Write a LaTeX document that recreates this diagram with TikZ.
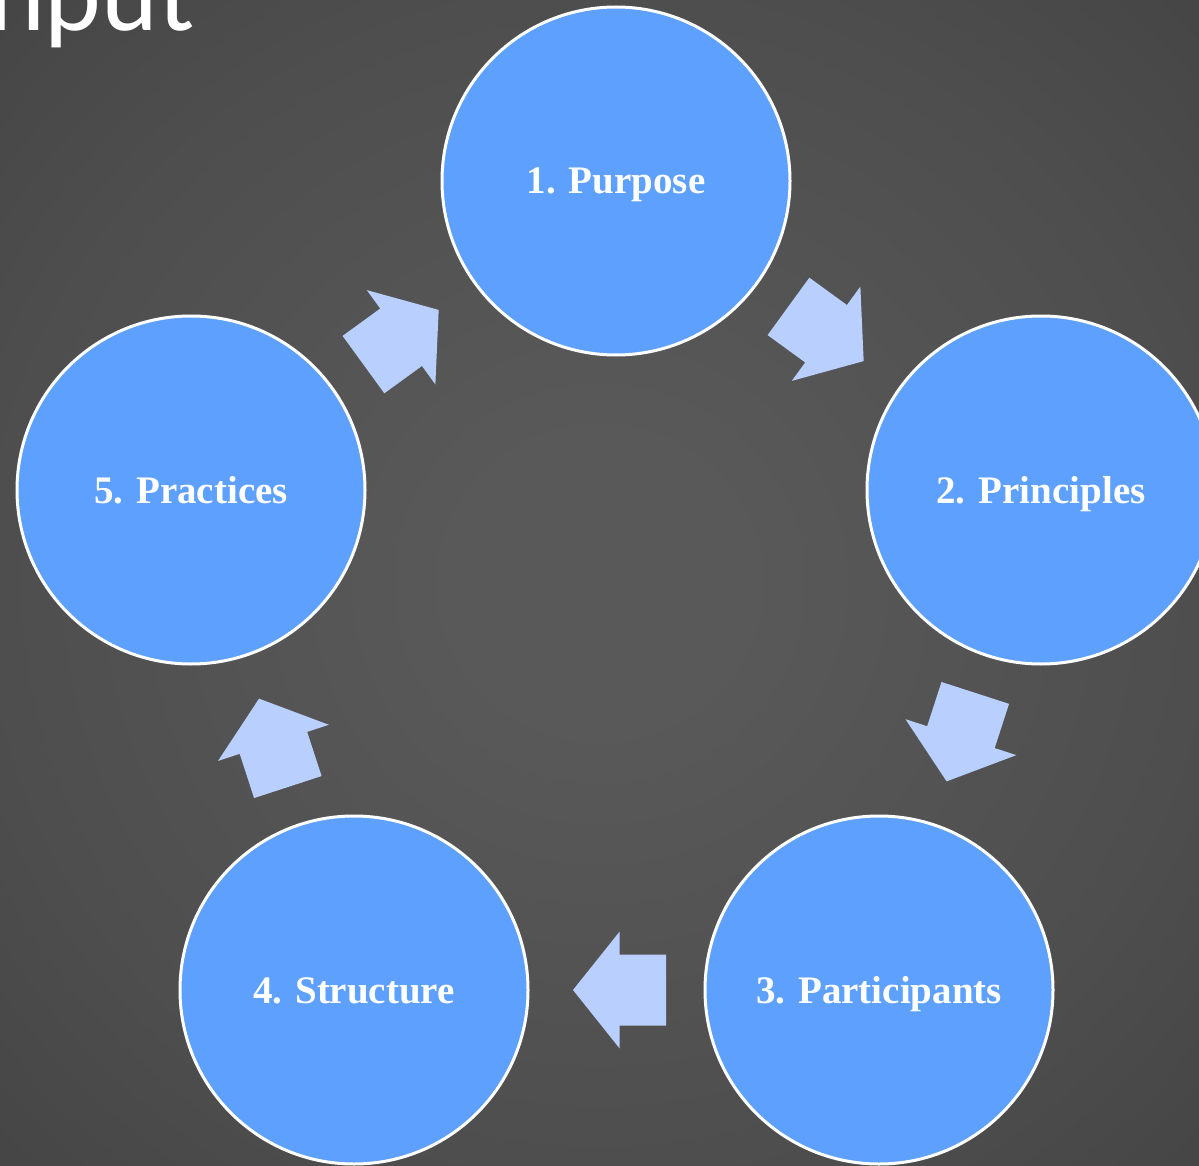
\documentclass[tikz,border=0pt]{standalone}
\usepackage{fontspec}
\setmainfont{Liberation Serif}
\newfontfamily\titlefont{Carlito}
\usetikzlibrary{calc}
\definecolor{circblue}{RGB}{94,160,254}
\definecolor{arrowblue}{RGB}{185,207,253}
\definecolor{bgin}{RGB}{89,89,89}
\definecolor{bgmid}{RGB}{78,78,78}
\definecolor{bgout}{RGB}{69,69,69}
\pgfdeclareradialshading{bgshade}{\pgfpoint{0bp}{0bp}}{color(0bp)=(bgin); color(6bp)=(bgin); color(25bp)=(bgmid); color(36bp)=(bgout); color(50bp)=(bgout)}
\tikzset{
  stage/.style={circle, fill=circblue, draw=white, line width=3pt, minimum size=348pt, inner sep=0pt,
    text=white, text height=26pt, text depth=0pt, font=\bfseries\fontsize{39}{45}\selectfont},
  cyclearrowfill/.style={fill=arrowblue, draw=none}
}
\newcommand\cyclearrow[2]{%
  \coordinate (mA) at ($(#1)!0.5!(#2)$);
  \coordinate (mB) at ($(mA)!-3pt!(#2)$);
  \coordinate (mT) at ($(mB)!-46.5pt!(#2)$);
  \coordinate (mP) at ($(mB)!46.5pt!(#2)$);
  \fill[cyclearrowfill] ($(mT)!35.5pt!90:(mB)$) -- ($(mB)!35.5pt!90:(#2)$) -- ($(mB)!58.3pt!90:(#2)$) -- (mP)
    -- ($(mB)!58.3pt!-90:(#2)$) -- ($(mB)!35.5pt!-90:(#2)$) -- ($(mT)!35.5pt!-90:(mB)$) -- cycle;
}
\begin{document}
\begin{tikzpicture}[x=1pt,y=-1pt]
\useasboundingbox (0,0) rectangle (1199,1166);
\clip (0,0) rectangle (1199,1166);
\fill[shading=bgshade] (0,0) rectangle (1199,1166);
\node[anchor=base east, text=white, font=\titlefont\fontsize{108}{118}\selectfont] (title) at (198,31) {Input};
\node[stage] (c1) at (616,181) {1. Purpose};
\node[stage] (c2) at (1041,490) {2. Principles};
\node[stage] (c3) at (879,990) {3. Participants};
\node[stage] (c4) at (354,990) {4. Structure};
\node[stage] (c5) at (191,490) {5. Practices};
\cyclearrow{c1}{c2}
\cyclearrow{c2}{c3}
\cyclearrow{c3}{c4}
\cyclearrow{c4}{c5}
\cyclearrow{c5}{c1}
\end{tikzpicture}
\end{document}
